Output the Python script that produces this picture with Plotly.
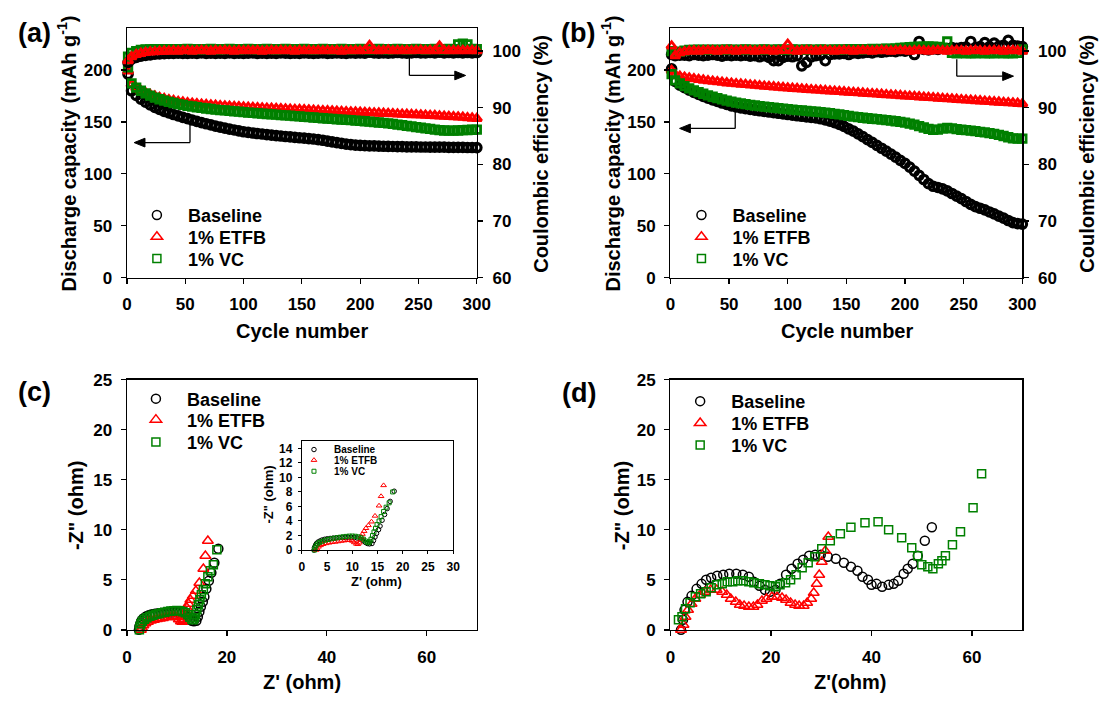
import plotly.graph_objects as go

W, H = 1113, 707
FONT = "Liberation Sans, Arial, Helvetica, sans-serif"
BLACK, RED, GREEN = "#000000", "#ff0000", "#008000"


def fx(px):
    return px / W


def fy(py):
    return 1 - py / H


# ---------------- data ----------------
series_names = ["Baseline", "1% ETFB", "1% VC"]

cycles = [1] + list(range(4, 301, 4))

# (a) discharge capacity, mAh/g
cap_a_base = [196, 180, 175.5, 172, 169, 166.3, 164, 162, 160.2, 158.6,
              157.1, 155.7, 154.4, 153.1, 151.8, 150.5, 149.3, 148.2, 147.1, 146.0,
              145.0, 144.0, 143.1, 142.2, 141.3, 140.5, 139.9, 139.3, 138.8, 138.3,
              137.8, 137.3, 136.8, 136.4, 135.9, 135.5, 135.1, 134.7, 134.3, 133.9,
              133.5, 133.0, 132.3, 131.5, 130.7, 130.0, 129.2, 128.5, 128.0, 127.6,
              127.3, 127.1, 126.9, 126.8, 126.6, 126.5, 126.4, 126.3, 126.2, 126.1,
              126.0, 126.0, 125.9, 125.8, 125.8, 125.7, 125.7, 125.6, 125.6, 125.5,
              125.5, 125.4, 125.4, 125.3, 125.3, 125.2]
cap_a_etfb = [199, 186, 182.5, 180, 178, 176.3, 174.8, 173.5, 172.4, 171.4,
              170.5, 169.7, 169.0, 168.4, 167.9, 167.4, 167.0, 166.6, 166.2, 165.9,
              165.6, 165.3, 165.0, 164.7, 164.5, 164.2, 164.0, 163.8, 163.6, 163.4,
              163.2, 163.0, 162.8, 162.6, 162.4, 162.2, 162.0, 161.8, 161.6, 161.4,
              161.2, 161.0, 160.8, 160.6, 160.4, 160.2, 160.0, 159.8, 159.6, 159.4,
              159.2, 159.0, 158.8, 158.6, 158.4, 158.2, 158.0, 157.8, 157.6, 157.4,
              157.2, 157.0, 156.8, 156.6, 156.4, 156.2, 156.0, 155.7, 155.4, 155.2,
              155.0, 154.7, 154.4, 154.0, 153.6, 153.2]
cap_a_vc = [202.5, 187, 183, 180, 177.5, 175.3, 173.4, 171.8, 170.4, 169.2,
            168.2, 167.2, 166.3, 165.5, 164.8, 164.1, 163.5, 162.9, 162.4, 161.9,
            161.4, 161.0, 160.6, 160.2, 159.8, 159.4, 159.0, 158.7, 158.3, 158.0,
            157.6, 157.3, 157.0, 156.6, 156.3, 156.0, 155.6, 155.3, 154.9, 154.6,
            154.2, 153.9, 153.5, 153.2, 152.8, 152.5, 152.2, 151.9, 151.6, 151.3,
            151.0, 150.6, 150.2, 149.8, 149.4, 149.0, 148.5, 148.0, 147.4, 146.8,
            146.2, 145.6, 145.0, 144.4, 143.8, 143.2, 142.6, 142.1, 141.7, 141.5,
            141.5, 141.7, 142.0, 142.2, 142.4, 142.5]

# (a) coulombic efficiency, %
ce_a_base = [98.0, 98.6, 98.9, 99.1, 99.25, 99.35, 99.45, 99.5, 99.55, 99.6,
             99.6, 99.65, 99.6, 99.6, 99.65, 99.6, 99.7, 99.6, 99.65, 99.6,
             99.65, 99.6, 99.7, 99.6, 99.65, 99.6, 99.65, 99.7, 99.6, 99.65,
             99.6, 99.65, 99.6, 99.7, 99.65, 99.6, 99.65, 99.6, 99.7, 99.65,
             99.6, 99.65, 99.7, 99.6, 99.65, 99.7, 99.65, 99.6, 99.7, 99.65,
             99.7, 99.65, 99.8, 99.7, 99.65, 99.7, 99.65, 99.7, 99.75, 99.7,
             99.65, 99.7, 99.75, 99.7, 99.7, 99.75, 99.7, 99.8, 99.7, 99.75,
             99.7, 99.75, 99.7, 99.75, 99.7, 99.75]
ce_a_etfb = [98.3, 99.0, 99.4, 99.6, 99.75, 99.85, 99.9, 99.95, 100.0, 100.0,
             100.05, 100.0, 100.05, 100.1, 100.0, 100.05, 100.1, 100.05, 100.0, 100.1,
             100.05, 100.1, 100.05, 100.0, 100.1, 100.05, 100.1, 100.05, 100.1, 100.0,
             100.05, 100.1, 100.05, 100.1, 100.05, 100.1, 100.0, 100.1, 100.05, 100.1,
             100.05, 100.1, 100.05, 100.1, 100.05, 100.1, 100.0, 100.1, 100.05, 100.1,
             100.05, 100.1, 101.0, 100.1, 100.05, 100.1, 100.2, 100.05, 100.1, 100.05,
             100.1, 100.05, 100.1, 100.15, 100.05, 100.1, 100.05, 100.9, 100.1, 100.05,
             100.1, 100.05, 100.1, 100.05, 100.1, 100.05]
ce_a_vc = [99.0, 99.7, 100.0, 100.2, 100.3, 100.3, 100.35, 100.3, 100.35, 100.3,
           100.35, 100.3, 100.35, 100.4, 100.3, 100.35, 100.3, 100.35, 100.4, 100.35,
           100.3, 100.35, 100.4, 100.35, 100.3, 100.35, 100.4, 100.35, 100.3, 100.35,
           100.4, 100.35, 100.3, 100.35, 100.4, 100.35, 100.3, 100.35, 100.4, 100.35,
           100.3, 100.35, 100.4, 100.35, 100.3, 100.35, 100.4, 100.35, 100.3, 100.35,
           100.4, 100.35, 100.3, 100.35, 100.4, 100.35, 100.3, 100.35, 100.4, 100.35,
           100.3, 100.35, 100.4, 100.35, 100.3, 100.35, 100.4, 100.35, 100.3, 100.4,
           100.35, 101.2, 101.3, 101.2, 100.4, 100.35]

# (b) discharge capacity, mAh/g
cap_b_base = [201, 189, 185.5, 183, 180.5, 178.5, 176.5, 174.5, 172.8, 171.2,
              169.7, 168.2, 166.8, 165.5, 164.4, 163.5, 162.7, 162.0, 161.3, 160.7,
              160.1, 159.5, 158.9, 158.3, 157.7, 157.1, 156.5, 155.9, 155.4, 154.9,
              154.4, 153.8, 153.0, 152.0, 150.8, 149.3, 147.6, 145.6, 143.3, 141.0,
              138.5, 135.8, 133.0, 130.2, 127.4, 124.6, 121.8, 118.9, 116.0, 113.0,
              110.0, 106.5, 102.5, 98.5, 94.5, 90.5, 88.0, 86.8, 85.5, 83.5,
              81.0, 78.5, 76.0, 73.3, 70.5, 68.3, 66.8, 65.2, 63.2, 61.3,
              59.3, 57.2, 55.0, 53.0, 52.0, 51.5]
cap_b_etfb = [199.5, 195.5, 194, 193, 192.2, 191.5, 190.8, 190.2, 189.6, 189.1,
              188.6, 188.1, 187.6, 187.2, 186.8, 186.4, 186.0, 185.6, 185.2, 184.8,
              184.4, 184.0, 183.7, 183.3, 183.0, 182.6, 182.3, 182.0, 181.6, 181.3,
              181.0, 180.7, 180.4, 180.1, 179.8, 179.5, 179.2, 178.9, 178.6, 178.3,
              178.0, 177.7, 177.4, 177.1, 176.8, 176.5, 176.2, 175.9, 175.6, 175.3,
              175.0, 174.7, 174.4, 174.1, 173.8, 173.5, 173.2, 172.9, 172.6, 172.3,
              172.0, 171.7, 171.4, 171.1, 170.8, 170.5, 170.2, 169.9, 169.6, 169.3,
              169.0, 168.7, 168.4, 168.1, 167.8, 167.5]
cap_b_vc = [196, 190, 187, 184.5, 182.3, 180.4, 178.7, 177.1, 175.6, 174.2,
            172.9, 171.7, 170.5, 169.5, 168.6, 167.8, 167.1, 166.4, 165.8, 165.2,
            164.7, 164.2, 163.7, 163.2, 162.7, 162.2, 161.8, 161.4, 161.0, 160.6,
            160.2, 159.8, 159.4, 158.9, 158.4, 157.8, 157.2, 156.5, 155.8, 155.1,
            154.5, 154.0, 153.5, 153.0, 152.6, 152.2, 151.7, 151.2, 150.6, 150.0,
            149.3, 148.4, 147.3, 146.0, 144.6, 143.2, 142.3, 142.5, 143.5, 144.2,
            143.8, 143.0, 142.4, 142.0, 141.5, 141.0, 140.4, 139.8, 139.1, 138.4,
            137.5, 136.4, 135.2, 134.2, 133.8, 133.8]

# (b) coulombic efficiency, %
ce_b_base = [99.4, 99.2, 99.3, 99.3, 99.2, 99.4, 99.3, 99.2, 99.3, 99.4,
             99.3, 99.1, 99.3, 99.2, 99.3, 99.2, 99.3, 99.1, 99.2, 99.0,
             99.2, 98.9, 98.3, 98.3, 98.9, 99.1, 99.0, 99.2, 97.4, 98.0,
             99.0, 99.2, 99.3, 98.3, 99.4, 99.5, 99.5, 99.6, 99.4, 99.7,
             99.6, 99.7, 99.8, 99.7, 99.9, 99.8, 99.9, 100.0, 99.9, 100.1,
             100.0, 100.2, 99.4, 101.7, 100.3, 100.2, 100.4, 100.3, 100.5, 100.4,
             100.6, 100.5, 100.6, 100.7, 101.7, 100.6, 100.8, 101.5, 100.8, 101.4,
             100.9, 101.0, 101.9, 101.0, 100.9, 100.8]
ce_b_etfb = [100.9, 99.2, 99.7, 99.9, 100.0, 100.05, 100.0, 100.05, 100.1, 100.05,
             100.0, 100.05, 100.1, 100.05, 100.0, 100.05, 100.1, 100.05, 100.0, 100.05,
             100.1, 100.05, 100.0, 100.05, 100.1, 101.2, 100.05, 100.0, 100.05, 100.1,
             100.05, 100.0, 100.05, 100.1, 100.05, 100.0, 100.05, 100.1, 100.05, 100.0,
             100.05, 100.1, 100.05, 100.0, 100.05, 100.1, 100.05, 100.0, 100.05, 100.1,
             100.05, 100.0, 100.05, 100.1, 100.05, 100.0, 100.05, 100.1, 100.05, 100.0,
             100.05, 100.1, 100.05, 100.0, 100.05, 100.1, 100.05, 100.0, 100.05, 100.1,
             100.05, 100.0, 100.05, 100.1, 100.05, 100.0]
ce_b_vc = [100.0, 99.6, 99.9, 100.1, 100.2, 100.2, 100.25, 100.2, 100.25, 100.2,
           100.25, 100.2, 100.3, 100.25, 100.2, 100.25, 100.3, 100.25, 100.2, 100.25,
           100.3, 100.25, 100.2, 100.3, 100.25, 100.2, 100.3, 100.25, 100.2, 100.3,
           100.25, 100.2, 100.3, 100.25, 100.2, 100.3, 100.25, 100.3, 100.35, 100.3,
           100.35, 100.3, 100.35, 100.4, 100.35, 100.4, 100.45, 100.4, 100.5, 100.55,
           100.6, 100.7, 100.75, 100.8, 100.8, 100.85, 100.8, 100.75, 100.6, 101.7,
           99.7, 99.6, 99.7, 99.6, 99.65, 99.6, 99.7, 99.6, 99.65, 99.6,
           99.7, 99.6, 99.65, 99.6, 99.7, 100.3]

# (c) Nyquist, ohm
zre_c_base = [2.4, 2.5, 2.7, 2.9, 3.2, 3.6, 4.0, 4.5, 5.0, 5.6, 6.2, 6.8, 7.4, 8.0, 8.6,
              9.2, 9.8, 10.4, 11.0, 11.6, 12.1, 12.6, 13.0, 13.4, 13.9, 14.2, 14.5, 14.8,
              15.2, 15.5, 15.9, 16.4, 16.9, 17.5, 18.3]
zim_c_base = [0.0, 0.35, 0.65, 0.9, 1.1, 1.25, 1.38, 1.48, 1.55, 1.6, 1.65, 1.68, 1.7, 1.72,
              1.74, 1.75, 1.75, 1.72, 1.65, 1.5, 1.3, 1.05, 0.9, 0.85, 0.9, 1.3, 1.8, 2.3,
              2.8, 3.3, 4.1, 4.9, 5.7, 6.7, 8.1]
zre_c_etfb = [2.8, 3.0, 3.3, 3.7, 4.2, 4.8, 5.4, 6.0, 6.6, 7.2, 7.8, 8.4, 9.0, 9.5, 10.0,
              10.4, 10.8, 11.1, 11.4, 11.6, 11.8, 12.0, 12.35, 12.7, 13.2, 13.8, 14.5,
              15.3, 15.7, 16.2]
zim_c_etfb = [0.0, 0.2, 0.45, 0.65, 0.8, 0.92, 1.0, 1.07, 1.12, 1.18, 1.25, 1.3, 1.35, 1.35,
              1.25, 1.05, 0.85, 0.8, 1.0, 1.4, 1.8, 2.2, 2.6, 3.0, 3.4, 3.9, 4.7, 6.1, 7.4, 8.9]
zre_c_vc = [2.5, 2.6, 2.8, 3.1, 3.5, 4.0, 4.6, 5.2, 5.8, 6.4, 7.0, 7.6, 8.2, 8.8, 9.4,
            10.0, 10.6, 11.2, 11.7, 12.2, 12.6, 13.0, 13.3, 13.5, 13.7, 14.0, 14.3, 14.6,
            14.9, 15.3, 15.7, 16.2, 16.7, 17.3, 18.0]
zim_c_vc = [0.0, 0.3, 0.6, 0.85, 1.05, 1.2, 1.35, 1.45, 1.55, 1.62, 1.7, 1.77, 1.83, 1.88,
            1.92, 1.93, 1.9, 1.82, 1.7, 1.5, 1.25, 1.05, 1.0, 1.2, 1.5, 2.0, 2.5, 3.0,
            3.5, 4.0, 4.6, 5.3, 5.9, 6.5, 8.0]

# (d) Nyquist, ohm
zre_d_base = [2.1, 2.5, 2.8, 3.4, 4.2, 5.2, 6.2, 7.1, 8.1, 9.3, 10.5, 11.7, 13.1, 14.4, 15.6,
              16.6, 17.7, 18.8, 19.8, 20.9, 21.8, 23.0, 24.1, 25.3, 26.4, 27.6, 28.8, 29.9,
              31.3, 32.9, 34.5, 35.9, 37.2, 38.2, 39.3, 40.0, 41.0, 42.1, 43.4, 44.4, 45.3,
              46.4, 47.2, 48.2, 49.2, 50.6, 52.0]
zim_d_base = [0.0, 1.0, 2.0, 2.8, 3.4, 4.1, 4.6, 5.0, 5.2, 5.4, 5.5, 5.6, 5.6, 5.5, 5.3,
              4.8, 4.4, 4.0, 3.8, 4.0, 4.6, 5.5, 6.1, 6.6, 7.0, 7.4, 7.5, 7.5, 7.3, 7.1,
              6.7, 6.3, 5.9, 5.3, 5.0, 4.5, 4.6, 4.3, 4.5, 4.6, 4.9, 5.6, 6.1, 6.6, 7.4,
              8.9, 10.25]
zre_d_etfb = [2.1, 2.6, 3.0, 3.5, 4.2, 4.95, 5.9, 6.9, 8.0, 9.2, 10.3, 11.2, 12.0, 13.0,
              13.8, 14.65, 15.6, 16.5, 17.3, 18.2, 19.1, 20.2, 21.2, 22.2, 23.0, 23.9, 24.8,
              25.6, 26.5, 27.2, 28.0, 28.5, 29.1, 29.6, 30.1, 30.8, 31.4]
zim_d_etfb = [0.0, 0.5, 1.3, 2.0, 2.6, 3.1, 3.5, 3.8, 4.0, 4.0, 3.8, 3.5, 3.1, 2.8, 2.5,
              2.4, 2.3, 2.3, 2.5, 2.9, 3.1, 3.3, 3.3, 3.2, 3.0, 2.7, 2.5, 2.4, 2.4, 2.7,
              3.1, 3.7, 4.6, 5.5, 6.8, 7.9, 9.3]
zre_d_vc = [1.6, 2.3, 3.0, 3.9, 4.95, 6.0, 7.1, 8.1, 9.2, 10.3, 11.3, 12.4, 13.4, 14.5, 15.6,
            16.6, 17.7, 18.8, 19.8, 20.9, 21.8, 22.9, 23.9, 25.0, 26.2, 27.4, 28.7, 30.1,
            31.8, 33.8, 35.9, 38.7, 41.3, 43.4, 46.0, 48.0, 49.2, 50.0, 51.2, 52.2, 53.3,
            54.0, 54.7, 56.1, 57.7, 60.2, 61.9]
zim_d_vc = [1.0, 1.3, 2.1, 2.7, 3.3, 3.6, 3.8, 4.2, 4.5, 4.6, 4.8, 4.8, 4.9, 4.9, 4.8,
            4.7, 4.6, 4.5, 4.4, 4.3, 4.5, 4.7, 5.0, 5.5, 6.2, 6.7, 7.3, 8.1, 8.9, 9.6,
            10.25, 10.7, 10.8, 10.0, 9.2, 8.2, 7.4, 6.5, 6.3, 6.1, 6.6, 6.9, 7.4, 8.5,
            9.8, 12.2, 15.6]

cap_ticks = [0, 50, 100, 150, 200]
ce_ticks = [60, 70, 80, 90, 100]
cycle_ticks = [0, 50, 100, 150, 200, 250, 300]
z_ticks = [0, 20, 40, 60]
zim_ticks = [0, 5, 10, 15, 20, 25]
inset_x_ticks = [0, 5, 10, 15, 20, 25, 30]
inset_y_ticks = [0, 2, 4, 6, 8, 10, 12, 14]

# ---------------- figure ----------------
colors = [BLACK, RED, GREEN]
symbols = ["circle-open", "triangle-up-open", "square-open"]

fig = go.Figure()


def add_markers(x, y, xa, ya, k, size, lw):
    fig.add_trace(go.Scatter(
        x=x, y=y, xaxis=xa, yaxis=ya, mode="markers", showlegend=False,
        cliponaxis=False, hoverinfo="skip",
        marker=dict(symbol=symbols[k], size=size[k], color=colors[k],
                    line=dict(color=colors[k], width=lw[k]))))


band_size = [8.5, 8.5, 7.5]
band_lw = [3.2, 2.8, 2.8]

# (a)
for k, ys in enumerate([cap_a_base, cap_a_etfb, cap_a_vc]):
    add_markers(cycles, ys, "x", "y", k, band_size, band_lw)
for k, ys in [(0, ce_a_base), (2, ce_a_vc), (1, ce_a_etfb)]:
    add_markers(cycles, ys, "x", "y2", k, band_size, band_lw)
# (b)
for k, ys in enumerate([cap_b_base, cap_b_etfb, cap_b_vc]):
    add_markers(cycles, ys, "x2", "y3", k, band_size, band_lw)
for k, ys in [(0, ce_b_base), (2, ce_b_vc), (1, ce_b_etfb)]:
    add_markers(cycles, ys, "x2", "y4", k, band_size, band_lw)

nyq_size = [9, 9.5, 8]
nyq_lw = [1.5, 1.5, 1.5]
c_sets = [(zre_c_base, zim_c_base), (zre_c_etfb, zim_c_etfb), (zre_c_vc, zim_c_vc)]
d_sets = [(zre_d_base, zim_d_base), (zre_d_etfb, zim_d_etfb), (zre_d_vc, zim_d_vc)]
for k, (xs, ys) in enumerate(c_sets):
    add_markers(xs, ys, "x3", "y5", k, nyq_size, nyq_lw)
for k, (xs, ys) in enumerate(d_sets):
    add_markers(xs, ys, "x4", "y6", k, nyq_size, nyq_lw)
ins_size = [4.5, 5, 4]
ins_lw = [1, 1, 1]
for k, (xs, ys) in enumerate(c_sets):
    add_markers(xs, ys, "x5", "y7", k, ins_size, ins_lw)

# legends (one legend per entry so that the row spacing matches)
legend_layout = {}
legend_specs = [
    # marker-centre x, row centres y, axes, font size, itemwidth, marker sizes, line width
    (154, [212, 234.3, 256.7], "x", "y", 18, 52, [9, 10, 8], 1.5),
    (708, [212, 234.3, 256.7], "x2", "y3", 18, 52, [9, 10, 8], 1.5),
    (153, [400.7, 422.3, 445.3], "x3", "y5", 18, 52, [9, 10, 8], 1.5),
    (706.7, [403.3, 425.7, 448.3], "x4", "y6", 18, 52, [9, 10, 8], 1.5),
    (314, [452.7, 463.6, 475], "x5", "y7", 10, 30, [4.5, 5, 4], 1),
]
lid = 1
for mx, rows, xa, ya, fs, iw, msz, mlw in legend_specs:
    for k in range(3):
        key = "legend" if lid == 1 else f"legend{lid}"
        fig.add_trace(go.Scatter(
            x=[None], y=[None], xaxis=xa, yaxis=ya, mode="markers",
            name=series_names[k], legend=key, showlegend=True, hoverinfo="skip",
            marker=dict(symbol=symbols[k], size=msz[k], color=colors[k],
                        line=dict(color=colors[k], width=mlw))))
        legend_layout[key] = dict(
            x=fx(mx - (iw + 10) / 2), y=fy(rows[k]), xanchor="left", yanchor="middle",
            bgcolor="rgba(0,0,0,0)", borderwidth=0, itemwidth=iw,
            font=dict(family=FONT, size=fs, color="black", weight="bold"),
            itemclick=False, itemdoubleclick=False)
        lid += 1


def axis(domain, rng, tickvals, anchor, fs=17, ticklen=5, side=None, mirror=False,
         overlaying=None, standoff=5, lw=1.3):
    d = dict(range=rng, tickvals=tickvals, anchor=anchor, showline=True, linecolor="black",
             linewidth=lw, mirror=mirror, ticks="outside", ticklen=ticklen, tickwidth=lw,
             tickcolor="black", showgrid=False, zeroline=False, fixedrange=True,
             tickfont=dict(family=FONT, size=fs, color="black", weight="bold"),
             ticklabelstandoff=standoff)
    if domain is not None:
        d["domain"] = domain
    if side:
        d["side"] = side
    if overlaying:
        d["overlaying"] = overlaying
    return d


xa_top = [fx(124), fx(480)]
xb_top = [fx(677), fx(1035)]
y_top = [fy(276), fy(20)]
y_bot = [fy(638), fy(381)]

layout = dict(
    width=W, height=H, autosize=False,
    margin=dict(l=0, r=0, t=0, b=0, pad=0),
    paper_bgcolor="white", plot_bgcolor="rgba(0,0,0,0)",
    hovermode=False,
    font=dict(family=FONT, color="black"),
    xaxis=axis(xa_top, [0, 300], cycle_ticks, "y", mirror=True, standoff=6),
    yaxis=axis(y_top, [0, 240], cap_ticks, "x", standoff=5),
    yaxis2=axis(None, [60, 104], ce_ticks, "x", side="right", overlaying="y", standoff=6),
    xaxis2=axis(xb_top, [0, 300], cycle_ticks, "y3", mirror=True, standoff=6),
    yaxis3=axis(y_top, [0, 240], cap_ticks, "x2", standoff=5),
    yaxis4=axis(None, [60, 104], ce_ticks, "x2", side="right", overlaying="y3", standoff=6),
    xaxis3=axis([fx(124), fx(480)], [0, 70], z_ticks, "y5", mirror=True, standoff=6),
    yaxis5=axis(y_bot, [0, 25], zim_ticks, "x3", mirror=True, standoff=5),
    xaxis4=axis(xb_top, [0, 70], z_ticks, "y6", mirror=True, standoff=6),
    yaxis6=axis(y_bot, [0, 25], zim_ticks, "x4", mirror=True, standoff=5),
    xaxis5=axis([fx(302), fx(456)], [0, 30], inset_x_ticks, "y7", fs=12, ticklen=3,
                mirror=True, standoff=3, lw=1),
    yaxis7=axis([fy(556), fy(444)], [0, 15], inset_y_ticks, "x5", fs=12, ticklen=3,
                mirror=True, standoff=3, lw=1),
)
layout.update(legend_layout)

annotations = []


def label(text, x, y, size, angle=0, xanchor="center"):
    annotations.append(dict(
        text=text, x=fx(x), y=fy(y), xref="paper", yref="paper", showarrow=False,
        xanchor=xanchor, yanchor="middle", textangle=angle,
        font=dict(family=FONT, size=size, color="black", weight="bold")))


label("(a)", 11, 25, 27, xanchor="left")
label("(b)", 564, 25, 27, xanchor="left")
label("(c)", 11, 394, 27, xanchor="left")
label("(d)", 565, 394.6, 27, xanchor="left")
label("Cycle number", 302, 331, 20)
label("Cycle number", 856.5, 331, 20)
label("Discharge capacity (mAh g<sup>-1</sup>)", 62.5, 148, 20, angle=-90)
label("Coulombic efficiency (%)", 544.6, 148.5, 20, angle=-90)
label("Discharge capacity (mAh g<sup>-1</sup>)", 616, 148, 20, angle=-90)
label("Coulombic efficiency (%)", 1100, 148.5, 20, angle=-90)
label("-Z\" (ohm)", 73, 510, 20, angle=-90)
label("Z' (ohm)", 302, 692, 20)
label("-Z\" (ohm)", 627.6, 510, 20, angle=-90)
label("Z'(ohm)", 860, 692, 20)
label("-Z\" (ohm)", 268.6, 499, 13, angle=-90)
label("Z' (ohm)", 377.5, 588, 13)

shapes = []


def arrow(vx, vy0, vy1, tipx):
    lw = 1.3
    shapes.append(dict(type="line", xref="paper", yref="paper", x0=fx(vx), y0=fy(vy0),
                       x1=fx(vx), y1=fy(vy1), line=dict(color="black", width=lw)))
    hl, hw = 11, 4.5
    base = tipx + hl if tipx < vx else tipx - hl
    shapes.append(dict(type="line", xref="paper", yref="paper", x0=fx(vx), y0=fy(vy1),
                       x1=fx(base), y1=fy(vy1), line=dict(color="black", width=lw)))
    path = (f"M {fx(tipx)} {fy(vy1)} L {fx(base)} {fy(vy1 - hw)} "
            f"L {fx(base)} {fy(vy1 + hw)} Z")
    shapes.append(dict(type="path", xref="paper", yref="paper", path=path,
                       fillcolor="black", line=dict(color="black", width=1)))


arrow(188.2, 119.3, 137.3, 131.4)
arrow(411.4, 50, 68.3, 468.6)
arrow(742.9, 103.3, 122.7, 686.3)
arrow(968.3, 51.7, 69, 1026)

layout["annotations"] = annotations
layout["shapes"] = shapes
fig.update_layout(**layout)

fig.write_html("out.html", config={"displayModeBar": False, "staticPlot": True})
